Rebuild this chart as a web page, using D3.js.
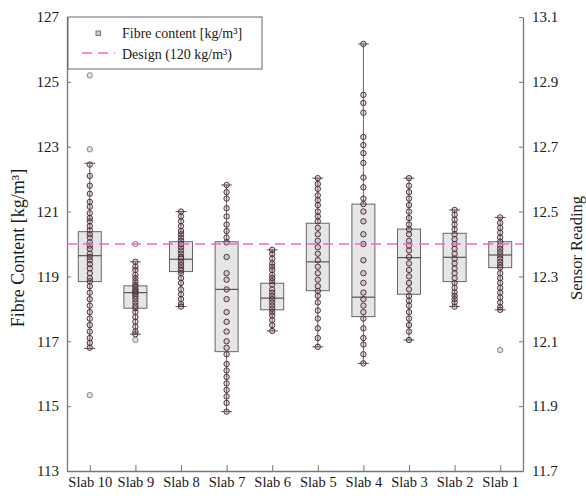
<!DOCTYPE html>
<html>
<head>
<meta charset="utf-8">
<script src="https://cdn.jsdelivr.net/npm/d3@7"></script>
<style>
html,body{margin:0;padding:0;background:#fff;}
</style>
</head>
<body>
<svg id="chart" width="586" height="496"></svg>
<script>
// ---- data ----
const categories = ["Slab 10","Slab 9","Slab 8","Slab 7","Slab 6","Slab 5","Slab 4","Slab 3","Slab 2","Slab 1"];
const q1        = [118.84, 118.02, 119.15, 116.68, 117.97, 118.56, 117.76, 118.45, 118.84, 119.27];
const medians   = [119.64, 118.50, 119.53, 118.60, 118.33, 119.45, 118.36, 119.58, 119.59, 119.66];
const q3        = [120.38, 118.71, 120.07, 120.07, 118.79, 120.64, 121.23, 120.46, 120.33, 120.07];
const whiskLow  = [116.78, 117.22, 118.07, 114.83, 117.32, 116.83, 116.32, 117.04, 118.07, 117.97];
const whiskHigh = [122.49, 119.45, 121.00, 121.82, 119.82, 122.03, 126.17, 122.03, 121.05, 120.82];
const points = [
  [125.2,122.92,122.45,122.1,121.8,121.55,121.3,121.15,120.95,120.8,120.7,120.55,120.42,120.3,120.2,120.05,119.95,119.85,119.7,119.6,119.5,119.38,119.25,119.1,118.95,118.85,118.7,118.5,118.3,118.1,117.9,117.7,117.5,117.3,117.1,116.95,116.8,115.34],
  [120.0,119.45,119.3,119.2,119.05,118.95,118.85,118.75,118.68,118.6,118.55,118.5,118.45,118.38,118.3,118.2,118.1,118.02,117.9,117.75,117.6,117.45,117.3,117.22,117.04],
  [121.0,120.85,120.7,120.55,120.4,120.3,120.2,120.1,120.0,119.9,119.8,119.7,119.6,119.55,119.45,119.35,119.25,119.18,119.1,118.95,118.8,118.6,118.45,118.3,118.15,118.07],
  [121.82,121.6,121.4,121.1,120.85,120.6,120.4,120.2,120.05,119.6,119.1,118.9,118.6,118.3,117.9,117.6,117.3,117.0,116.8,116.6,116.3,116.1,115.9,115.7,115.5,115.3,115.1,114.83],
  [119.82,119.7,119.55,119.4,119.3,119.2,119.05,118.95,118.85,118.75,118.6,118.5,118.4,118.3,118.2,118.1,118.0,117.9,117.8,117.65,117.5,117.32],
  [122.03,121.85,121.7,121.5,121.35,121.2,121.0,120.85,120.7,120.5,120.3,120.1,119.9,119.7,119.5,119.3,119.1,118.9,118.7,118.55,118.4,118.2,117.95,117.7,117.4,117.1,116.83],
  [126.17,124.6,124.35,124.05,123.3,123.05,122.8,122.5,122.05,121.75,121.4,121.23,121.0,120.7,120.3,120.0,119.5,119.1,118.8,118.5,118.3,118.1,117.9,117.7,117.4,117.1,116.9,116.6,116.32],
  [122.03,121.8,121.6,121.4,121.2,121.0,120.8,120.6,120.45,120.3,120.1,119.95,119.8,119.6,119.4,119.2,119.0,118.8,118.6,118.4,118.25,118.1,117.9,117.7,117.5,117.3,117.04],
  [121.05,120.9,120.75,120.6,120.45,120.3,120.15,120.0,119.85,119.7,119.55,119.4,119.25,119.1,118.95,118.8,118.65,118.5,118.4,118.3,118.2,118.07],
  [120.82,120.65,120.5,120.35,120.2,120.07,119.95,119.85,119.75,119.65,119.55,119.45,119.35,119.27,119.1,118.95,118.8,118.65,118.5,118.35,118.2,118.05,117.97,116.73]
];
const designValue = 120;
const leftTicks  = [113,115,117,119,121,123,125,127];
const rightTicks = [11.7,11.9,12.1,12.3,12.5,12.7,12.9,13.1];
const leftTitle = "Fibre Content [kg/m³]";
const rightTitle = "Sensor Reading";
const legendLabels = ["Fibre content [kg/m³]", "Design (120 kg/m³)"];

// ---- layout ----
const FONT = '"Liberation Serif", "Times New Roman", "DejaVu Serif", serif';
const svg = d3.select("#chart");
const L = 67, R = 523, T = 17, B = 471;
const x = d3.scalePoint().domain(categories).range([L, R]).padding(0.5);
const y = d3.scaleLinear().domain([113,127]).range([B, T]);
const y2 = d3.scaleLinear().domain([11.7,13.1]).range([B, T]);
const axisColor = "#777";
const boxW = 23, capW = 11;

function txt(sel){ return sel.attr("font-family",FONT).style("font-family",FONT).attr("fill","#1a1a1a"); }

// axes
const gL = svg.append("g").attr("transform",`translate(${L},0)`)
  .call(d3.axisLeft(y).tickValues(leftTicks).tickSizeInner(-4).tickSizeOuter(0).tickPadding(8).tickFormat(d3.format("d")));
const gR = svg.append("g").attr("transform",`translate(${R},0)`)
  .call(d3.axisRight(y2).tickValues(rightTicks).tickSizeInner(-4).tickSizeOuter(0).tickPadding(9).tickFormat(d3.format(".1f")));
const gB = svg.append("g").attr("transform",`translate(0,${B})`)
  .call(d3.axisBottom(x).tickSizeInner(-6).tickSizeOuter(0).tickPadding(5));
[gL,gR,gB].forEach(g=>{
  g.attr("font-family",FONT);
  g.select(".domain").attr("stroke",axisColor).attr("stroke-width",1.3);
  g.selectAll(".tick line").attr("stroke",axisColor);
  txt(g.selectAll(".tick text"));
});
gL.selectAll(".tick text").style("font-size","15px");
gR.selectAll(".tick text").style("font-size","15px");
gB.selectAll(".tick text").style("font-size","14.5px").attr("dy","0.75em");

// titles
txt(svg.append("text")).attr("transform",`translate(24,248) rotate(-90)`)
  .attr("text-anchor","middle").style("font-size","18px").text(leftTitle);
txt(svg.append("text")).attr("transform",`translate(582,248) rotate(-90)`)
  .attr("text-anchor","middle").style("font-size","16.5px").text(rightTitle);

// boxes
const gBox = svg.append("g");
categories.forEach((c,i)=>{
  const cx = x(c);
  const g = gBox.append("g");
  g.append("line").attr("x1",cx).attr("x2",cx).attr("y1",y(whiskHigh[i])).attr("y2",y(q3[i])).attr("stroke","#666");
  g.append("line").attr("x1",cx).attr("x2",cx).attr("y1",y(q1[i])).attr("y2",y(whiskLow[i])).attr("stroke","#666");
  g.append("line").attr("x1",cx-capW/2).attr("x2",cx+capW/2).attr("y1",y(whiskHigh[i])).attr("y2",y(whiskHigh[i])).attr("stroke","#555");
  g.append("line").attr("x1",cx-capW/2).attr("x2",cx+capW/2).attr("y1",y(whiskLow[i])).attr("y2",y(whiskLow[i])).attr("stroke","#555");
  g.append("rect").attr("x",cx-boxW/2).attr("width",boxW).attr("y",y(q3[i])).attr("height",y(q1[i])-y(q3[i]))
    .attr("fill","#dcdcdc").attr("fill-opacity",0.7).attr("stroke","#666").attr("stroke-width",1);
  g.append("line").attr("x1",cx-boxW/2).attr("x2",cx+boxW/2).attr("y1",y(medians[i])).attr("y2",y(medians[i])).attr("stroke","#555").attr("stroke-width",1.2);
});

// points
const gPts = svg.append("g");
categories.forEach((c,i)=>{
  gPts.selectAll(null).data(points[i]).enter().append("circle")
    .attr("cx",x(c)).attr("cy",d=>y(d)).attr("r",2.7)
    .attr("fill","rgba(150,70,90,0.2)")
    .attr("stroke",d=>(d>whiskHigh[i]+0.01||d<whiskLow[i]-0.01)?"#888":"#4a363c")
    .attr("stroke-width",1);
});

// design line
svg.append("line").attr("x1",L).attr("x2",R).attr("y1",y(designValue)).attr("y2",y(designValue))
  .attr("stroke","#f06ad0").attr("stroke-width",1.6).attr("stroke-dasharray","10,6");

// legend
const lg = svg.append("g");
lg.append("rect").attr("x",68).attr("y",17).attr("width",194).attr("height",52)
  .attr("fill","#fff").attr("stroke","#666").attr("stroke-width",1);
lg.append("rect").attr("x",96).attr("y",31).attr("width",4.5).attr("height",4.5)
  .attr("fill","#ccc").attr("stroke","#777");
lg.append("line").attr("x1",82).attr("x2",115).attr("y1",53).attr("y2",53)
  .attr("stroke","#f06ad0").attr("stroke-width",1.6).attr("stroke-dasharray","10,6");
txt(lg.append("text")).attr("x",122).attr("y",38).style("font-size","14px").text(legendLabels[0]);
txt(lg.append("text")).attr("x",122).attr("y",59).style("font-size","14px").text(legendLabels[1]);
</script>
</body>
</html>
